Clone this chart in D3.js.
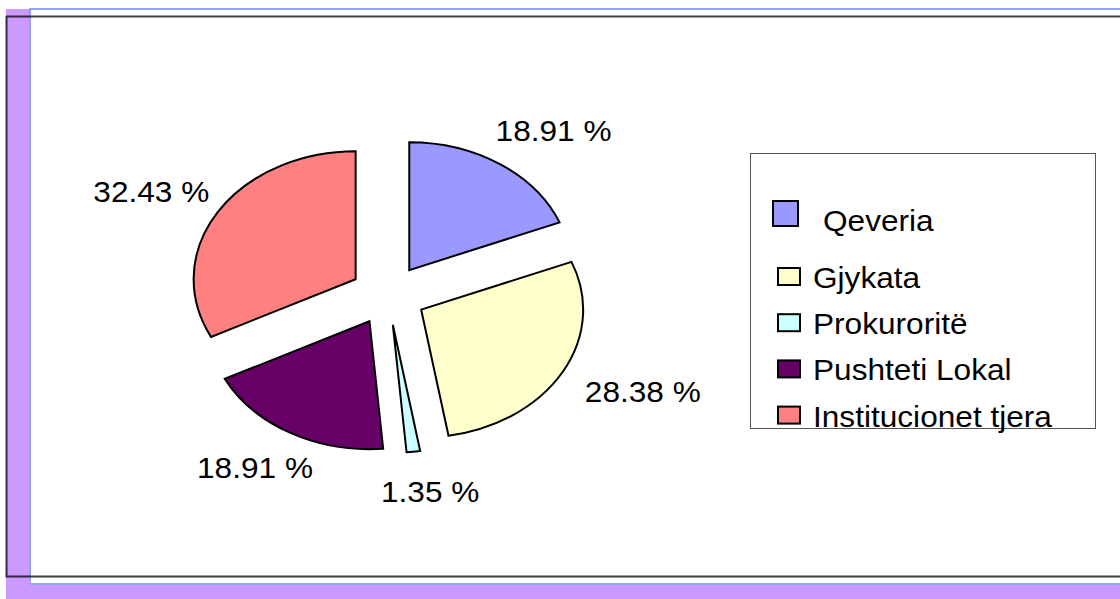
<!DOCTYPE html>
<html>
<head>
<meta charset="utf-8">
<script src="https://cdn.jsdelivr.net/npm/d3@7"></script>
<style>
  body { margin: 0; background: #fff; }
  svg { display: block; }
  text { font-family: "Liberation Sans", Arial, sans-serif; fill: #000; }
</style>
</head>
<body>
<svg id="chart"></svg>
<script>
// data
const categories = ["Qeveria", "Gjykata", "Prokuroritë", "Pushteti Lokal", "Institucionet tjera"];
const values = [18.91, 28.38, 1.35, 18.91, 32.43];
const colors = ["#9999FF", "#FFFFCC", "#CCFFFF", "#660066", "#FF8080"];

// layout
const width = 1120;
const height = 599;
const cx = 388, cy = 295;      // pie centre
const radius = 162;             // horizontal radius
const tilt = 0.79;              // vertical squash of the pie
const explode = 38;
const labelRx = 247, labelRy = 168, labelShift = 6;
const fontSize = 29, stretch = 1.09;

const svg = d3.select('#chart')
    .attr('width', width)
    .attr('height', height);

// frame
svg.append('rect')
    .attr('x', 6).attr('y', 9)
    .attr('width', width).attr('height', height)
    .attr('fill', '#CC99FF');
svg.append('rect')
    .attr('x', 30).attr('y', 9)
    .attr('width', width).attr('height', 575)
    .attr('fill', '#fff')
    .attr('stroke', '#8FA3FF')
    .attr('stroke-width', 2);
svg.append('path')
    .attr('d', 'M' + (width + 5) + ',16.5H6.5V576.5H' + (width + 5))
    .attr('fill', 'none')
    .attr('stroke', '#000')
    .attr('stroke-opacity', 0.75)
    .attr('stroke-width', 2);

// pie
const pie = d3.pie().sort(null).value(d => d);
const arcs = pie(values);
const arc = d3.arc().innerRadius(0).outerRadius(radius);

const slices = svg.append('g').attr('id', 'pie');
arcs.forEach(function(a, i) {
    const mid = (a.startAngle + a.endAngle) / 2;
    const ox = cx + explode * Math.sin(mid);
    const oy = cy - explode * Math.cos(mid) * tilt;
    slices.append('g')
        .attr('transform', 'translate(' + ox + ',' + oy + ') scale(1,' + tilt + ')')
        .append('path')
        .attr('d', arc(a))
        .attr('fill', colors[i])
        .attr('stroke', '#000')
        .attr('stroke-width', 2)
        .attr('stroke-linejoin', 'miter')
        .attr('vector-effect', 'non-scaling-stroke');

    // percentage label outside the slice
    const lx = ox + labelShift + labelRx * Math.sin(mid);
    const ly = oy - labelRy * Math.cos(mid);
    svg.append('text')
        .attr('transform', 'translate(' + lx + ',' + (ly + 10.5) + ') scale(' + stretch + ',1)')
        .attr('text-anchor', 'middle')
        .style('font-size', fontSize + 'px')
        .text(d3.format('.2f')(values[i]) + ' %');
});

// legend
const legend = svg.append('g').attr('id', 'legend');
legend.append('rect')
    .attr('x', 750.5).attr('y', 153.5)
    .attr('width', 345).attr('height', 275)
    .attr('fill', '#fff')
    .attr('stroke', '#555')
    .attr('stroke-width', 1);

categories.forEach(function(name, i) {
    let sx, sy, sw, sh, tx, ty;
    if (i === 0) {
        // first entry sits apart with a larger key
        sx = 773; sy = 201; sw = 25; sh = 25; tx = 823; ty = 231;
    } else {
        sx = 778; sy = 268 + (i - 1) * 46.2; sw = 22; sh = 17;
        tx = 813; ty = 287.7 + (i - 1) * 46.3;
    }
    legend.append('rect')
        .attr('x', sx).attr('y', sy)
        .attr('width', sw).attr('height', sh)
        .attr('fill', colors[i])
        .attr('stroke', '#000')
        .attr('stroke-width', 2);
    legend.append('text')
        .attr('transform', 'translate(' + tx + ',' + ty + ') scale(' + stretch + ',1)')
        .style('font-size', fontSize + 'px')
        .text(name);
});
</script>
</body>
</html>
